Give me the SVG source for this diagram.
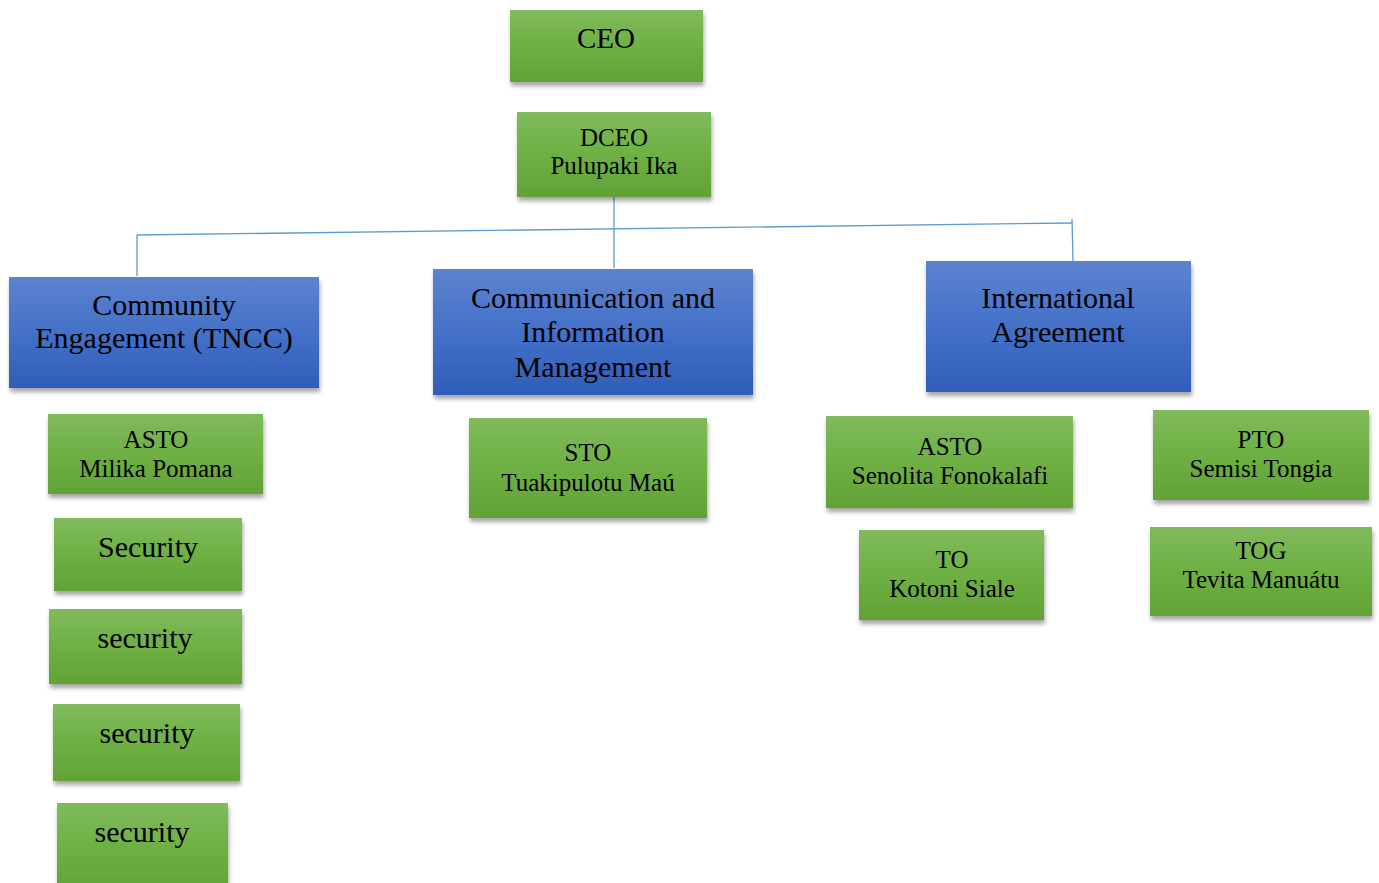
<svg xmlns="http://www.w3.org/2000/svg" width="1379" height="883" viewBox="0 0 1379 883">
<defs>
<linearGradient id="gGreen" x1="0" y1="0" x2="0" y2="1">
<stop offset="0" stop-color="#80bb5c"/>
<stop offset="0.5" stop-color="#6eb043"/>
<stop offset="1" stop-color="#62a237"/>
</linearGradient>
<linearGradient id="gBlue" x1="0" y1="0" x2="0" y2="1">
<stop offset="0" stop-color="#5d83cf"/>
<stop offset="0.5" stop-color="#4471c8"/>
<stop offset="1" stop-color="#2f5db8"/>
</linearGradient>
<filter id="shadow" x="-10%" y="-10%" width="120%" height="130%">
<feDropShadow dx="1" dy="4" stdDeviation="2" flood-color="#000" flood-opacity="0.35"/>
</filter>
</defs>
<style>
.g{fill:url(#gGreen);filter:url(#shadow)}
.b{fill:url(#gBlue);filter:url(#shadow)}
text{font-family:"Liberation Serif","Times New Roman",serif;fill:#000;text-anchor:middle}
.L{font-size:30px}
.S{font-size:25px}
.c{stroke:#5b9bd5;stroke-width:1.3;fill:none}
</style>
<rect width="1379" height="883" fill="#fff"/>
<g id="connectors">
<line class="c" x1="614" y1="197" x2="614" y2="268"/>
<line class="c" x1="137" y1="235" x2="1072" y2="223"/>
<line class="c" x1="137" y1="235" x2="137" y2="276"/>
<line class="c" x1="1072" y1="219" x2="1073" y2="261"/>
</g>
<g id="ceo"><rect class="g" x="510" y="10" width="193" height="72"/><text class="L" x="606" y="48" style="font-size:29px">CEO</text></g>
<g id="dceo"><rect class="g" x="517" y="112" width="194" height="85"/><text class="S" x="614" y="146">DCEO</text><text class="S" x="614" y="174">Pulupaki Ika</text></g>
<g id="community"><rect class="b" x="9" y="277" width="310" height="111"/><text class="L" x="164" y="315">Community</text><text class="L" x="164" y="348">Engagement (TNCC)</text></g>
<g id="communication"><rect class="b" x="433" y="269" width="320" height="126"/><text class="L" x="593" y="308">Communication and</text><text class="L" x="593" y="342">Information</text><text class="L" x="593" y="377">Management</text></g>
<g id="international"><rect class="b" x="926" y="261" width="265" height="131"/><text class="L" x="1058" y="308">International</text><text class="L" x="1058" y="342">Agreement</text></g>
<g id="asto-milika"><rect class="g" x="48" y="414" width="215" height="80"/><text class="S" x="156" y="448">ASTO</text><text class="S" x="156" y="477">Milika Pomana</text></g>
<g id="security1"><rect class="g" x="54" y="518" width="188" height="73"/><text class="L" x="148" y="557">Security</text></g>
<g id="security2"><rect class="g" x="49" y="609" width="193" height="75"/><text class="L" x="145" y="648">security</text></g>
<g id="security3"><rect class="g" x="53" y="704" width="187" height="77"/><text class="L" x="147" y="743">security</text></g>
<g id="security4"><rect class="g" x="57" y="803" width="171" height="90"/><text class="L" x="142" y="842">security</text></g>
<g id="sto"><rect class="g" x="469" y="418" width="238" height="100"/><text class="S" x="588" y="461">STO</text><text class="S" x="588" y="491">Tuakipulotu Maú</text></g>
<g id="asto-senolita"><rect class="g" x="826" y="416" width="247" height="92"/><text class="S" x="950" y="455">ASTO</text><text class="S" x="950" y="484">Senolita Fonokalafi</text></g>
<g id="to"><rect class="g" x="859" y="530" width="185" height="90"/><text class="S" x="952" y="568">TO</text><text class="S" x="952" y="597">Kotoni Siale</text></g>
<g id="pto"><rect class="g" x="1153" y="410" width="216" height="90"/><text class="S" x="1261" y="448">PTO</text><text class="S" x="1261" y="477">Semisi Tongia</text></g>
<g id="tog"><rect class="g" x="1150" y="527" width="222" height="89"/><text class="S" x="1261" y="559">TOG</text><text class="S" x="1261" y="588">Tevita Manuátu</text></g>
</svg>
